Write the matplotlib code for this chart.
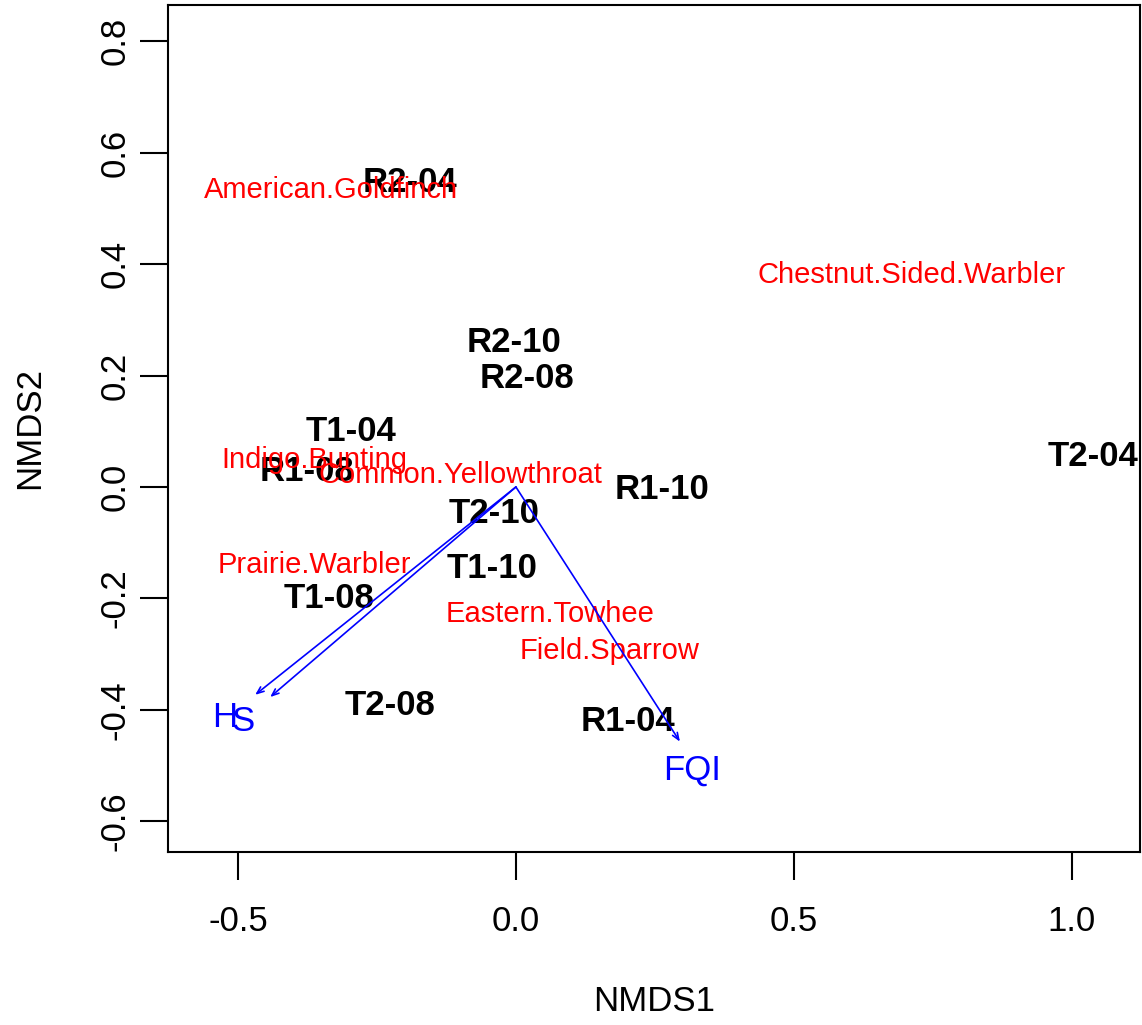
import matplotlib
matplotlib.use("Agg")
import matplotlib.pyplot as plt

plt.rcParams['font.family'] = ['Liberation Sans', 'DejaVu Sans']

# site scores
sites = ["R2-04", "R2-10", "R2-08", "T1-04", "R1-08", "T2-10",
         "R1-10", "T1-10", "T1-08", "T2-08", "R1-04", "T2-04"]
site_x = [-0.19, -0.004, 0.02, -0.297, -0.376, -0.04,
          0.263, -0.043, -0.336, -0.227, 0.201, 1.038]
site_y = [0.547, 0.26, 0.194, 0.099, 0.027, -0.048,
          -0.004, -0.147, -0.2, -0.393, -0.42, 0.054]

# species scores
species = ["American.Goldfinch", "Chestnut.Sided.Warbler", "Indigo.Bunting",
           "Common.Yellowthroat", "Prairie.Warbler", "Eastern.Towhee",
           "Field.Sparrow"]
sp_x = [-0.333, 0.712, -0.362, -0.1, -0.362, 0.061, 0.169]
sp_y = [0.533, 0.38, 0.048, 0.022, -0.14, -0.228, -0.294]

# fitted environmental vectors
env = ["H", "S", "FQI"]
env_x = [-0.469, -0.442, 0.295]
env_y = [-0.373, -0.377, -0.457]
env_lab_x = [-0.523, -0.491, 0.317]
env_lab_y = [-0.413, -0.42, -0.508]

fig = plt.figure(figsize=(11.42, 10.25), dpi=100)
ax = fig.add_axes([0.147, 0.1688, 0.851, 0.8264])

for lab, x, y in zip(sites, site_x, site_y):
    ax.text(x, y, lab, ha='center', va='center', fontsize=25,
            fontweight='bold', color='black')

for lab, x, y in zip(species, sp_x, sp_y):
    ax.text(x, y, lab, ha='center', va='center', fontsize=21, color='#ff0000')

for lab, x, y, lx, ly in zip(env, env_x, env_y, env_lab_x, env_lab_y):
    ax.annotate("", xy=(x, y), xytext=(0, 0),
                arrowprops=dict(arrowstyle='->,head_length=0.5,head_width=0.2',
                                color='blue', lw=1.2, shrinkA=0, shrinkB=0))
    ax.text(lx, ly, lab, ha='center', va='center', fontsize=25, color='blue')

ax.set_xlim(-0.626, 1.122)
ax.set_ylim(-0.655, 0.865)
ax.set_xticks([-0.5, 0.0, 0.5, 1.0])
ax.set_xticklabels(["-0.5", "0.0", "0.5", "1.0"])
ax.set_yticks([-0.6, -0.4, -0.2, 0.0, 0.2, 0.4, 0.6, 0.8])
ax.set_yticklabels(["-0.6", "-0.4", "-0.2", "0.0", "0.2", "0.4", "0.6", "0.8"],
                   rotation=90, va='center')
ax.tick_params(axis='both', length=20, width=1.5, labelsize=25)
ax.tick_params(axis='x', pad=18)
ax.tick_params(axis='y', pad=6)
for sp in ax.spines.values():
    sp.set_linewidth(1.5)

ax.set_xlabel("NMDS1", fontsize=25, labelpad=34)
ax.set_ylabel("NMDS2", fontsize=25, labelpad=38)

fig.savefig("out.png", dpi=100)
